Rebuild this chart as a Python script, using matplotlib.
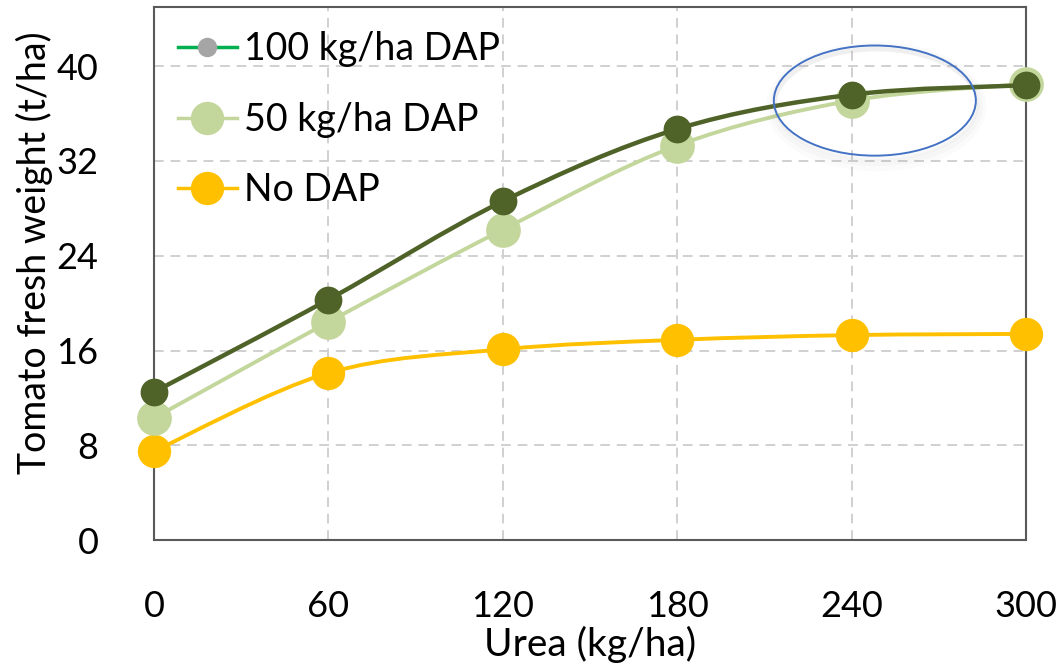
import matplotlib
matplotlib.use("Agg")
import matplotlib.pyplot as plt
from matplotlib.path import Path
from matplotlib.patches import PathPatch, Ellipse
from matplotlib.lines import Line2D
import numpy as np

plt.rcParams['font.family'] = ['Lato', 'DejaVu Sans']

# data
urea = [0, 60, 120, 180, 240, 300]
dap100 = [12.5, 20.3, 28.6, 34.7, 37.6, 38.4]
dap50 = [10.3, 18.4, 26.2, 33.3, 37.1, 38.5]
no_dap = [7.5, 14.1, 16.1, 16.9, 17.3, 17.4]

x_ticks = [0, 60, 120, 180, 240, 300]
y_ticks = [0, 8, 16, 24, 32, 40]


def smooth_path(xs, ys):
    # excel-like smoothed line: cubic bezier segments between the points
    p = np.column_stack([xs, ys]).astype(float)
    n = len(p)
    verts = [p[0]]
    codes = [Path.MOVETO]
    for i in range(n - 1):
        p0 = p[i - 1] if i > 0 else p[i]
        p3 = p[i + 2] if i + 2 < n else p[i + 1]
        c1 = p[i] + (p[i + 1] - p0) / 6.0
        c2 = p[i + 1] - (p3 - p[i]) / 6.0
        verts += [c1, c2, p[i + 1]]
        codes += [Path.CURVE4] * 3
    return Path(verts, codes)


fig = plt.figure(figsize=(10.6, 6.68), dpi=100)
ax = fig.add_axes([0.1453, 0.1916, 0.8226, 0.7979])

series = [
    (no_dap, "#FFC000", "#FFC000", 2.8, 24, 2),
    (dap50, "#C3D69B", "#C3D69B", 2.8, 25, 3),
    (dap100, "#4F6228", "#4F6228", 3.2, 20, 4),
]
for ys, lc, mc, lw, ms, z in series:
    ax.add_patch(PathPatch(smooth_path(urea, ys), fill=False, edgecolor=lc,
                           lw=lw, zorder=z, capstyle="round"))
    ax.plot(urea, ys, linestyle="none", marker="o", ms=ms, color=mc,
            markeredgewidth=0, zorder=z, clip_on=False)

# highlighted region
for k, a in enumerate([0.05, 0.04, 0.03]):
    ax.add_patch(Ellipse((248.5, 36.8 - 0.1 * k), 69.5 + k * 1.5, 9.3 + k * 0.4,
                         fill=False, edgecolor="#888888", lw=3 + 2 * k,
                         alpha=a, zorder=5))
ax.add_patch(Ellipse((248, 37.1), 69.5, 9.3, fill=False, edgecolor="#4472C4",
                     lw=1.4, zorder=6))

ax.set_xlim(0, 300)
ax.set_ylim(0, 45)
ax.set_xticks(x_ticks)
ax.set_yticks(y_ticks)
ax.grid(True, color="#D0D0D0", linestyle=(0, (5, 3.5)), lw=1.4)
ax.set_axisbelow(True)
ax.tick_params(length=0, labelsize=26, pad=0)
ax.tick_params(axis="y", pad=40)
ax.tick_params(axis="x", pad=36)
for s in ax.spines.values():
    s.set_color("#595959")
    s.set_linewidth(1.5)
    s.set_zorder(1)

ax.set_xlabel("Urea (kg/ha)", fontsize=28, labelpad=2)
ax.set_ylabel("Tomato fresh weight (t/ha)", fontsize=27)
ax.yaxis.set_label_coords(-0.116, 0.54)

handles = [
    Line2D([], [], color="#00B050", lw=2.5, marker="o", ms=14,
           markerfacecolor="#A5A5A5", markeredgewidth=0),
    Line2D([], [], color="#C3D69B", lw=2.5, marker="o", ms=24,
           markeredgewidth=0),
    Line2D([], [], color="#FFC000", lw=2.5, marker="o", ms=24,
           markeredgewidth=0),
]
labels = ["100 kg/ha DAP", "50 kg/ha DAP", "No DAP"]
ax.legend(handles, labels, loc="upper left", bbox_to_anchor=(0.0, 1.0),
          frameon=False, fontsize=27, handlelength=1.55, handletextpad=0.2,
          labelspacing=0.92, borderaxespad=0.25)

fig.savefig("out.png", dpi=100)
